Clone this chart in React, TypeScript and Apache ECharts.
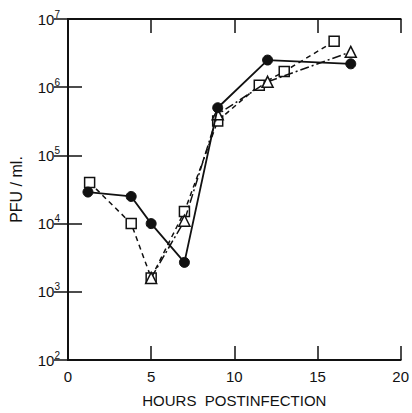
import React, { useEffect, useRef } from "react";
import * as echarts from "echarts";

const xTicks = [0, 5, 10, 15, 20];
const yTickExponents = [2, 3, 4, 5, 6, 7];

const circleHours = [1.2, 3.8, 5, 7, 9, 12, 17];
const circleValues = [2.9e4, 2.5e4, 1.0e4, 2.7e3, 5.0e5, 2.5e6, 2.2e6];

const squareHours = [1.3, 3.8, 5, 7, 9, 11.5, 13, 16];
const squareValues = [4.0e4, 1.0e4, 1.6e3, 1.5e4, 3.2e5, 1.07e6, 1.7e6, 4.7e6];

const triangleHours = [5, 7, 9, 12, 17];
const triangleValues = [1.6e3, 1.1e4, 4.0e5, 1.2e6, 3.3e6];

const FONT = "Liberation Sans";

function pairs(xs: number[], ys: number[]) {
  return xs.map((x, i) => [x, ys[i]]);
}

export default function App() {
  const ref = useRef<HTMLDivElement>(null);
  useEffect(() => {
    if (!ref.current) return;
    const chart = echarts.init(ref.current, null, { renderer: "svg" });
    const axisLine = { show: true, lineStyle: { color: "#111", width: 2 } };
    const tick = { show: true, inside: true, length: 14, lineStyle: { color: "#111", width: 1.5 } };
    const yLabelRich = {
      b: { fontSize: 15, fontFamily: FONT, color: "#111" },
      e: { fontSize: 10, fontFamily: FONT, color: "#111", padding: [0, 0, 10, 0] },
    };
    chart.setOption({
      animation: false,
      backgroundColor: "#fff",
      grid: { left: 67, right: 5, top: 19, bottom: 44 },
      xAxis: [
        {
          type: "value",
          min: xTicks[0],
          max: xTicks[xTicks.length - 1],
          interval: 5,
          position: "bottom",
          axisLine,
          axisTick: tick,
          splitLine: { show: false },
          axisLabel: { fontSize: 15, fontFamily: FONT, color: "#111", margin: 9 },
          name: "HOURS  POSTINFECTION",
          nameLocation: "middle",
          nameGap: 33,
          nameTextStyle: { fontSize: 15, fontFamily: FONT, color: "#111" },
        },
        {
          type: "value",
          min: xTicks[0],
          max: xTicks[xTicks.length - 1],
          interval: 5,
          position: "top",
          axisLine,
          axisTick: tick,
          splitLine: { show: false },
          axisLabel: { show: false },
        },
      ],
      yAxis: [
        {
          type: "log",
          logBase: 10,
          min: Math.pow(10, yTickExponents[0]),
          max: Math.pow(10, yTickExponents[yTickExponents.length - 1]),
          position: "left",
          axisLine,
          axisTick: tick,
          minorTick: { show: false },
          splitLine: { show: false },
          axisLabel: {
            margin: 8,
            formatter: (v: number) => `{b|10}{e|${Math.round(Math.log10(v))}}`,
            rich: yLabelRich,
          },
          name: "PFU / ml.",
          nameLocation: "middle",
          nameGap: 44,
          nameRotate: 90,
          nameTextStyle: { fontSize: 16, fontFamily: FONT, color: "#111" },
        },
        {
          type: "log",
          logBase: 10,
          min: Math.pow(10, yTickExponents[0]),
          max: Math.pow(10, yTickExponents[yTickExponents.length - 1]),
          position: "right",
          axisLine,
          axisTick: tick,
          splitLine: { show: false },
          axisLabel: { show: false },
        },
      ],
      series: [
        {
          type: "line",
          name: "squares",
          data: pairs(squareHours, squareValues),
          symbol: "rect",
          symbolSize: 10,
          itemStyle: { color: "#fff", borderColor: "#111", borderWidth: 1.5 },
          lineStyle: { color: "#111", width: 1.5, type: [5, 4] },
          z: 2,
        },
        {
          type: "line",
          name: "triangles",
          data: pairs(triangleHours, triangleValues),
          symbol: "triangle",
          symbolSize: 11,
          itemStyle: { color: "#fff", borderColor: "#111", borderWidth: 1.5 },
          lineStyle: { color: "#111", width: 1.5, type: [9, 3, 2, 3] },
          z: 3,
        },
        {
          type: "line",
          name: "circles",
          data: pairs(circleHours, circleValues),
          symbol: "circle",
          symbolSize: 10,
          itemStyle: { color: "#111", borderColor: "#111", borderWidth: 1 },
          lineStyle: { color: "#111", width: 1.8, type: "solid" },
          z: 4,
        },
      ],
    });
    return () => chart.dispose();
  }, []);
  return <div ref={ref} style={{ width: 412, height: 413, position: "absolute", left: 0, top: 0 }} />;
}
